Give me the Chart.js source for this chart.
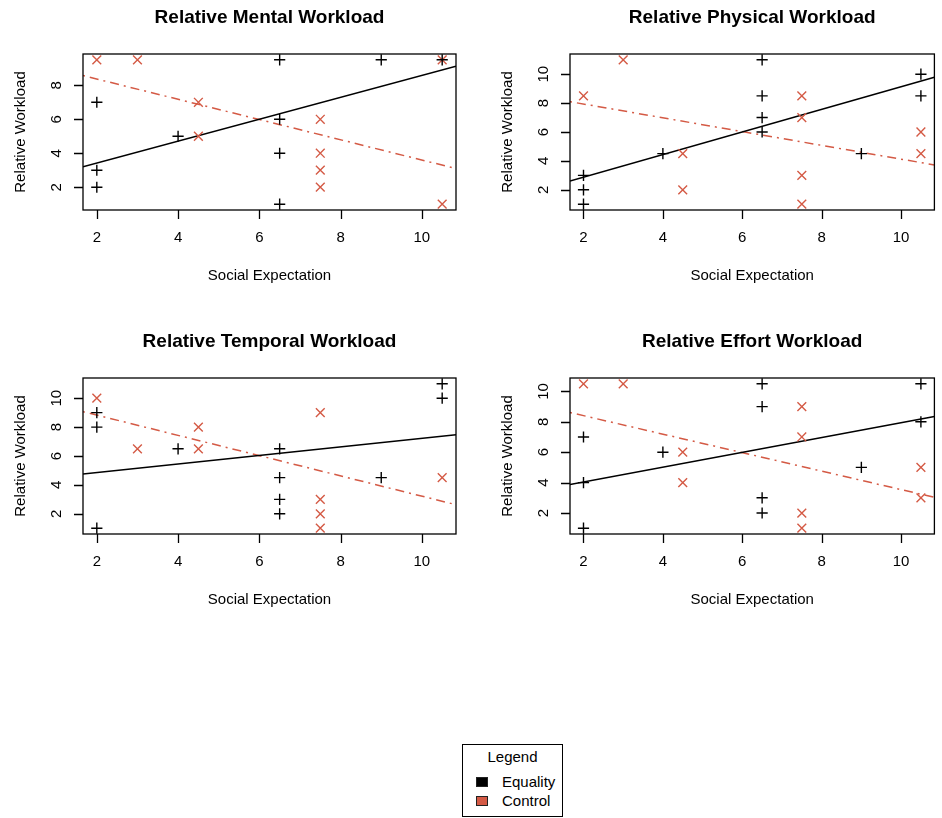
<!DOCTYPE html>
<html>
<head>
<meta charset="utf-8">
<title>Relative Workload by Social Expectation</title>
<script src="https://cdn.jsdelivr.net/npm/chart.js@4.4.0/dist/chart.umd.min.js"></script>
<style>
  html, body { margin: 0; padding: 0; background: #fff; }
  #page { position: relative; width: 942px; height: 818px; overflow: hidden;
          font-family: "Liberation Sans", Arial, Helvetica, sans-serif; color: #000; }
  canvas.panel { position: absolute; }
  #legend { position: absolute; left: 462px; top: 744px; width: 101px; height: 73px;
            border: 1px solid #000; box-sizing: border-box; font-size: 15px; }
  #legend .ttl { position: absolute; left: 0; right: 0; top: 3px; text-align: center; line-height: 18px; }
  #legend .row { position: absolute; left: 0; right: 0; height: 18px; line-height: 18px; }
  #legend .sw { position: absolute; left: 13px; top: 4px; width: 12px; height: 10px;
                box-sizing: border-box; border: 1px solid #222; }
  #legend .lbl { position: absolute; left: 39px; top: 0; }
</style>
</head>
<body>
<div id="page">
  <canvas id="c0" class="panel" width="471" height="310" style="left:0px;top:0px"></canvas>
  <canvas id="c1" class="panel" width="471" height="310" style="left:471px;top:0px"></canvas>
  <canvas id="c2" class="panel" width="471" height="310" style="left:0px;top:324px"></canvas>
  <canvas id="c3" class="panel" width="471" height="310" style="left:471px;top:324px"></canvas>
  <div id="legend"></div>
</div>
<script>
// ---- data ----
const panelTitles = ['Relative Mental Workload', 'Relative Physical Workload',
                     'Relative Temporal Workload', 'Relative Effort Workload'];
const xAxisTitle = 'Social Expectation';
const yAxisTitle = 'Relative Workload';
const seriesNames = ['Equality', 'Control'];
const legendTitle = 'Legend';

const xTickLabels = [2, 4, 6, 8, 10];
const yTickLabelsMental = [2, 4, 6, 8];
const yTickLabelsOther = [2, 4, 6, 8, 10];

const xRange = [1.66, 10.84];
const yRangeMental = [0.66, 9.84];
const yRangePhysical = [0.6, 11.4];
const yRangeTemporal = [0.6, 11.4];
const yRangeEffort = [0.62, 10.88];

// [social expectation, relative workload]
const mentalEquality = [[2,7],[2,3],[2,2],[4,5],[6.5,9.5],[6.5,6],[6.5,4],[6.5,1],[9,9.5],[10.5,9.5]];
const mentalControl = [[2,9.5],[3,9.5],[4.5,7],[4.5,5],[7.5,6],[7.5,4],[7.5,3],[7.5,2],[10.5,9.5],[10.5,1]];
const physicalEquality = [[2,3],[2,2],[2,1],[4,4.5],[6.5,11],[6.5,8.5],[6.5,7],[6.5,6],[9,4.5],[10.5,10],[10.5,8.5]];
const physicalControl = [[2,8.5],[3,11],[4.5,4.5],[4.5,2],[7.5,8.5],[7.5,7],[7.5,3],[7.5,1],[10.5,6],[10.5,4.5]];
const temporalEquality = [[2,9],[2,8],[2,1],[4,6.5],[6.5,6.5],[6.5,4.5],[6.5,3],[6.5,2],[9,4.5],[10.5,11],[10.5,10]];
const temporalControl = [[2,10],[3,6.5],[4.5,8],[4.5,6.5],[7.5,9],[7.5,3],[7.5,2],[7.5,1],[10.5,4.5]];
const effortEquality = [[2,7],[2,4],[2,1],[4,6],[6.5,10.5],[6.5,9],[6.5,3],[6.5,2],[9,5],[10.5,10.5],[10.5,8]];
const effortControl = [[2,10.5],[3,10.5],[4.5,6],[4.5,4],[7.5,9],[7.5,7],[7.5,2],[7.5,1],[10.5,5],[10.5,3]];

// fitted trend lines: workload at the left and right ends of the x range
const mentalFitEquality = [3.2, 9.12];
const mentalFitControl = [8.57, 3.1];
const physicalFitEquality = [2.61, 9.79];
const physicalFitControl = [8.1, 3.72];
const temporalFitEquality = [4.76, 7.47];
const temporalFitControl = [9.07, 2.63];
const effortFitEquality = [3.87, 8.35];
const effortFitControl = [8.61, 3.03];

// ---- styling ----
const FONT = '"Liberation Sans", Arial, Helvetica, sans-serif';
const BLACK = '#000000';
const RED = '#D45A45';
const seriesColors = [BLACK, RED];

const panels = [
  { title: panelTitles[0], yRange: yRangeMental, yTicks: yTickLabelsMental,
    eq: mentalEquality, ct: mentalControl, fitEq: mentalFitEquality, fitCt: mentalFitControl,
    pad: { left: 83, top: 54, right: 15, bottom: 100 } },
  { title: panelTitles[1], yRange: yRangePhysical, yTicks: yTickLabelsOther,
    eq: physicalEquality, ct: physicalControl, fitEq: physicalFitEquality, fitCt: physicalFitControl,
    pad: { left: 99, top: 54, right: 1, bottom: 100 } },
  { title: panelTitles[2], yRange: yRangeTemporal, yTicks: yTickLabelsOther,
    eq: temporalEquality, ct: temporalControl, fitEq: temporalFitEquality, fitCt: temporalFitControl,
    pad: { left: 83, top: 54, right: 15, bottom: 100 } },
  { title: panelTitles[3], yRange: yRangeEffort, yTicks: yTickLabelsOther,
    eq: effortEquality, ct: effortControl, fitEq: effortFitEquality, fitCt: effortFitControl,
    pad: { left: 99, top: 54, right: 1, bottom: 100 } }
];

// Base-graphics style frame: box, outward ticks, rotated y labels, titles
const rFrame = {
  id: 'rFrame',
  afterDraw(chart, args, opts) {
    const { ctx, chartArea: a, scales: { x, y } } = chart;
    ctx.save();
    ctx.strokeStyle = '#000';
    ctx.fillStyle = '#000';
    ctx.lineWidth = 1.3;
    ctx.strokeRect(a.left, a.top, a.right - a.left, a.bottom - a.top);

    ctx.beginPath();
    opts.xTicks.forEach(v => {
      const p = Math.round(x.getPixelForValue(v)) + 0.5;
      ctx.moveTo(p, a.bottom); ctx.lineTo(p, a.bottom + 9);
    });
    opts.yTicks.forEach(v => {
      const p = Math.round(y.getPixelForValue(v)) + 0.5;
      ctx.moveTo(a.left, p); ctx.lineTo(a.left - 9, p);
    });
    ctx.stroke();

    ctx.font = '15px ' + FONT;
    ctx.textAlign = 'center';
    ctx.textBaseline = 'middle';
    opts.xTicks.forEach(v => ctx.fillText(String(v), x.getPixelForValue(v), a.bottom + 28));
    opts.yTicks.forEach(v => {
      ctx.save();
      ctx.translate(a.left - 26, y.getPixelForValue(v));
      ctx.rotate(-Math.PI / 2);
      ctx.fillText(String(v), 0, 0);
      ctx.restore();
    });

    ctx.fillText(opts.xTitle, (a.left + a.right) / 2, a.bottom + 66);
    ctx.save();
    ctx.translate(a.left - 62, (a.top + a.bottom) / 2);
    ctx.rotate(-Math.PI / 2);
    ctx.fillText(opts.yTitle, 0, 0);
    ctx.restore();

    ctx.font = 'bold 19px ' + FONT;
    ctx.fillText(opts.title, (a.left + a.right) / 2, a.top - 36);
    ctx.restore();
  }
};

const toPoints = arr => arr.map(([x, y]) => ({ x, y }));
const fitLine = ends => [{ x: xRange[0], y: ends[0] }, { x: xRange[1], y: ends[1] }];

panels.forEach((p, i) => {
  new Chart(document.getElementById('c' + i), {
    type: 'scatter',
    data: {
      datasets: [
        { label: seriesNames[0], data: toPoints(p.eq), pointStyle: 'cross', pointRadius: 5.6,
          pointBorderWidth: 1.4, borderColor: seriesColors[0], backgroundColor: seriesColors[0], clip: false },
        { label: seriesNames[1], data: toPoints(p.ct), pointStyle: 'crossRot', pointRadius: 6.2,
          pointBorderWidth: 1.4, borderColor: seriesColors[1], backgroundColor: seriesColors[1], clip: false },
        { type: 'line', label: seriesNames[0] + ' fit', data: fitLine(p.fitEq), borderColor: seriesColors[0],
          borderWidth: 1.5, pointRadius: 0, fill: false, tension: 0 },
        { type: 'line', label: seriesNames[1] + ' fit', data: fitLine(p.fitCt), borderColor: seriesColors[1],
          borderWidth: 1.5, borderDash: [2, 5, 9, 5], pointRadius: 0, fill: false, tension: 0 }
      ]
    },
    options: {
      responsive: false,
      animation: false,
      devicePixelRatio: 1,
      events: [],
      layout: { padding: p.pad },
      scales: {
        x: { type: 'linear', min: xRange[0], max: xRange[1], display: false },
        y: { type: 'linear', min: p.yRange[0], max: p.yRange[1], display: false }
      },
      plugins: {
        legend: { display: false },
        tooltip: { enabled: false },
        title: { display: false },
        rFrame: { title: p.title, xTitle: xAxisTitle, yTitle: yAxisTitle,
                  xTicks: xTickLabels, yTicks: p.yTicks }
      }
    },
    plugins: [rFrame]
  });
});

// legend box
const legend = document.getElementById('legend');
legend.innerHTML = '<div class="ttl">' + legendTitle + '</div>' +
  seriesNames.map((name, k) =>
    '<div class="row" style="top:' + (28 + k * 19) + 'px">' +
    '<span class="sw" style="background:' + seriesColors[k] + '"></span>' +
    '<span class="lbl">' + name + '</span></div>').join('');
</script>
</body>
</html>
